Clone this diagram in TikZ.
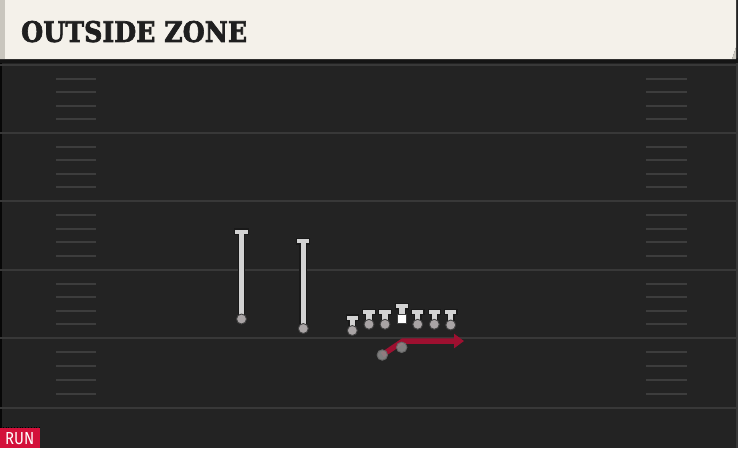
\documentclass[tikz,border=0pt]{standalone}
\usepackage{fontspec}
\usepackage{graphicx}
\usetikzlibrary{arrows.meta}
\newfontfamily\titlefont[FakeBold=2.5]{DejaVu Serif}
\newfontfamily\tagfont{Fira Sans}
\definecolor{field}{HTML}{232323}
\definecolor{cream}{HTML}{F4F1EA}
\definecolor{creamedge}{HTML}{C9C6BE}
\definecolor{shadowc}{HTML}{151515}
\definecolor{yardc}{HTML}{383838}
\definecolor{hashc}{HTML}{3D3D3D}
\definecolor{playerc}{HTML}{D2D2D2}
\definecolor{dotc}{HTML}{A9A4A5}
\definecolor{routec}{HTML}{9E1030}
\definecolor{runred}{HTML}{D3103A}
\definecolor{titlec}{HTML}{1F1F1F}
\definecolor{backc}{HTML}{8E8E8E}
\tikzset{
  yardline/.style={draw=yardc, line width=2pt},
  hashmark/.style={draw=hashc, line width=2pt},
  stembox/.style={fill=playerc, draw=black!90, line width=1.1pt},
  footdot/.style={circle, fill=dotc, draw=black!75, line width=0.9pt, minimum size=10pt, inner sep=0pt},
  backdot/.style={circle, fill=backc, draw=black!60, line width=0.9pt, minimum size=10.5pt, inner sep=0pt, fill opacity=0.85},
  centerbox/.style={fill=white, draw=black!75, line width=0.9pt, minimum size=9pt, inner sep=0pt},
  routeline/.style={draw=routec, line width=5.5pt, -{Triangle[length=10pt,width=14pt]}}
}
% #1 name, #2 x, #3 top y, #4 bottom y, #5 bar width
\newcommand{\playerT}[5]{%
  \filldraw[stembox] (#2-3.3,#3+3) rectangle (#2+3.3,#4);
  \filldraw[stembox] (#2-#5/2,#3) rectangle (#2+#5/2,#3+5.5);
  \fill[playerc] (#2-2.7,#3+4) rectangle (#2+2.7,#3+6.5);
  \node[footdot] (#1) at (#2,#4) {};
}
\begin{document}
\begin{tikzpicture}[x=1pt,y=-1pt]
\useasboundingbox (0,0) rectangle (738,448);
\fill[field] (0,0) rectangle (738,448);
\fill[black!80!field] (0,63) rectangle (2,448);
\fill[yardc] (736,63) rectangle (738,448);
% header
\fill[shadowc] (0,58) rectangle (738,63);
\fill[cream] (0,0) -- (736,0) -- (736,47) -- (732,59) -- (0,59) -- cycle;
\fill[creamedge] (736,47) -- (732,59) -- (736,59) -- cycle;
\fill[creamedge] (0,0) rectangle (5,59);
\node[anchor=south west, inner sep=0pt, text=titlec] (title) at (21,42.5)
  {\resizebox{226pt}{21pt}{\titlefont\bfseries OUTSIDE ZONE}};
% yard lines and hashes
\foreach \y in {65,133,201,270,338,408} {
  \draw[yardline] (0,\y) -- (738,\y);
}
\foreach \ya/\yb in {65/133,133/201,201/270,270/338,338/408} {
  \foreach \k in {1,2,3,4} {
    \pgfmathsetmacro{\yy}{\ya+(\yb-\ya)*\k/5}
    \draw[hashmark] (56,\yy) -- (96,\yy);
    \draw[hashmark] (646,\yy) -- (687,\yy);
  }
}
% receivers
\playerT{wrA}{241.5}{229}{319}{14}
\playerT{wrB}{303.3}{238.5}{328.5}{13}
% linemen
\playerT{lt}{352.3}{315}{330.5}{12.5}
\playerT{lg}{369}{309.3}{324.3}{12.5}
\playerT{lc}{385}{309.3}{324.3}{12.5}
\playerT{rg}{417.7}{309.3}{324.3}{12.5}
\playerT{rt}{434.3}{309.3}{324.3}{12.5}
\playerT{te}{450.7}{309.3}{325}{12.5}
% center
\filldraw[stembox] (398.5,307) rectangle (405.1,315);
\filldraw[stembox] (395.5,303.5) rectangle (408.1,309);
\fill[playerc] (399.1,308) rectangle (404.5,310);
\node[centerbox] (ctr) at (401.8,318.7) {};
% backfield and route
\coordinate (turn) at (403,341);
\coordinate (tip) at (464,341);
\node[backdot, draw=none, fill=none] (qb) at (382.3,355) {};
\draw[routeline] (qb.center) -- (turn) -- (tip);
\node[backdot] (qbdot) at (382.3,355) {};
\node[backdot] (rb) at (401.7,347.3) {};
% run tag
\draw[black, line width=0.8pt, dotted] (0,427) -- (40,427);
\fill[runred] (0,428) rectangle (40,448);
\node[anchor=south west, inner sep=0pt, text=white] (tag) at (5,445)
  {\resizebox{29pt}{12pt}{\tagfont RUN}};
\end{tikzpicture}
\end{document}
